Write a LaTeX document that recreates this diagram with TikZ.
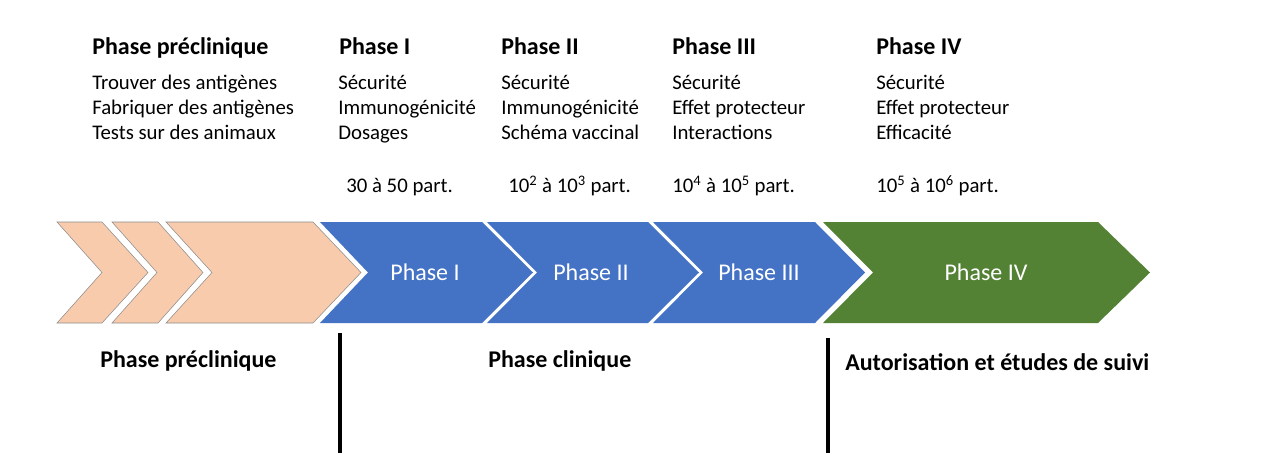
\documentclass[tikz,border=0pt]{standalone}
\usepackage{fontspec}
\setmainfont{Carlito}
\definecolor{peach}{HTML}{F8CBAD}
\definecolor{peachline}{HTML}{8C8C8C}
\definecolor{cblue}{HTML}{4472C4}
\definecolor{cgreen}{HTML}{548235}
\begin{document}
\begin{tikzpicture}[x=0.75pt,y=-0.75pt,
  title/.style={anchor=base west,inner sep=0pt,font=\fontsize{18}{21}\selectfont\bfseries},
  body/.style={anchor=base west,inner sep=0pt,align=left,font=\fontsize{15.6}{19}\selectfont},
  parts/.style={anchor=base west,inner sep=0pt,font=\fontsize{15.6}{19}\selectfont},
  inlabel/.style={inner sep=0pt,text=white,font=\fontsize{18}{21}\selectfont},
  bottom/.style={anchor=base west,inner sep=0pt,font=\fontsize{18}{21}\selectfont\bfseries},
  pchev/.style={fill=peach,draw=peachline,line width=0.4pt},
  bline/.style={line width=3pt,black}]
\useasboundingbox (0,0) rectangle (1268,467);
% preclinical chevrons
\draw[pchev] (57,222) -- (102,222) -- (148,272.5) -- (102,323) -- (57,323) -- (102,272.5) -- cycle;
\draw[pchev] (112,222) -- (158,222) -- (203,272.5) -- (158,323) -- (112,323) -- (157,272.5) -- cycle;
\draw[pchev] (166,222) -- (313,222) -- (361,272.5) -- (313,323) -- (166,323) -- (212,272.5) -- cycle;
% clinical chevrons
\fill[cblue] (320,222) -- (482,222) -- (533,272.5) -- (482,323) -- (320,323) -- (368,272.5) -- cycle;
\fill[cblue] (487,222) -- (648,222) -- (699,272.5) -- (648,323) -- (487,323) -- (537,272.5) -- cycle;
\fill[cblue] (653,222) -- (815,222) -- (865,272.5) -- (815,323) -- (653,323) -- (703,272.5) -- cycle;
\fill[cgreen] (823,222) -- (1098,222) -- (1150,272.5) -- (1098,323) -- (823,323) -- (873,272.5) -- cycle;
\node[inlabel] (l1) at (425,272) {Phase I};
\node[inlabel] (l2) at (591,272) {Phase II};
\node[inlabel] (l3) at (759,272) {Phase III};
\node[inlabel] (l4) at (986,272) {Phase IV};
% top titles
\node[title] (t0) at (92,55) {Phase préclinique};
\node[title] (t1) at (339,55) {Phase I};
\node[title] (t2) at (501,55) {Phase II};
\node[title] (t3) at (672,55) {Phase III};
\node[title] (t4) at (876,55) {Phase IV};
% bodies (base anchor = last line baseline)
\node[body] (b0) at (92,140) {Trouver des antigènes\\Fabriquer des antigènes\\Tests sur des animaux};
\node[body] (b1) at (338,140) {Sécurité\\Immunogénicité\\Dosages};
\node[body] (b2) at (501,140) {Sécurité\\Immunogénicité\\Schéma vaccinal};
\node[body] (b3) at (672,140) {Sécurité\\Effet protecteur\\Interactions};
\node[body] (b4) at (876,140) {Sécurité\\Effet protecteur\\Efficacité};
% participants
\node[parts] (p1) at (346,192) {30 à 50 part.};
\node[parts] (p2) at (508,192) {10\textsuperscript{2} à 10\textsuperscript{3} part.};
\node[parts] (p3) at (672,192) {10\textsuperscript{4} à 10\textsuperscript{5} part.};
\node[parts] (p4) at (876,192) {10\textsuperscript{5} à 10\textsuperscript{6} part.};
% bottom labels
\node[bottom] (s0) at (100,367) {Phase préclinique};
\node[bottom] (s1) at (488,367) {Phase clinique};
\node[bottom] (s2) at (845,370) {Autorisation et études de suivi};
% separators
\coordinate (v1a) at (340,333);
\coordinate (v1b) at (340,453);
\coordinate (v2a) at (828,338);
\coordinate (v2b) at (828,453);
\draw[bline] (v1a) -- (v1b);
\draw[bline] (v2a) -- (v2b);
\end{tikzpicture}
\end{document}
